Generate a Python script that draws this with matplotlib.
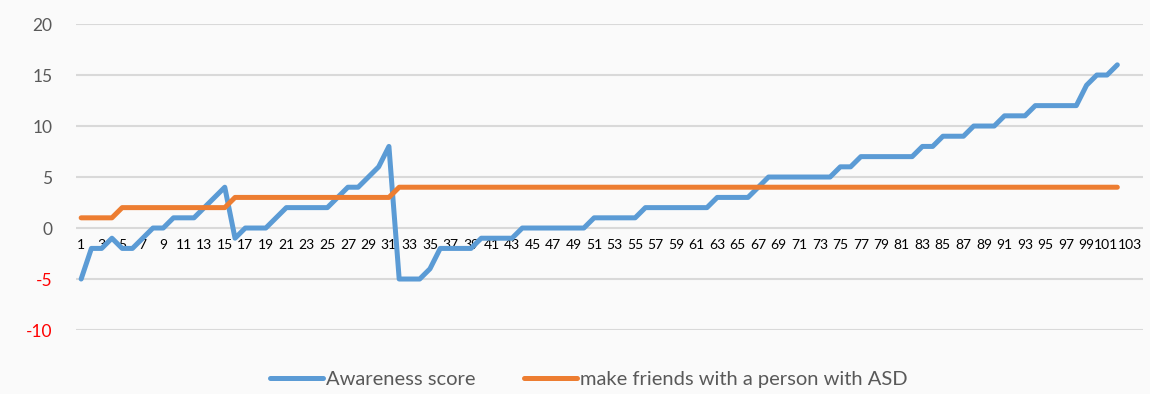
import matplotlib.pyplot as plt
import matplotlib.transforms as mtransforms
import numpy as np

# values, one per respondent (1..102)
awareness = [-5, -2, -2, -1, -2, -2, -1, 0, 0, 1,
             1, 1, 2, 3, 4, -1, 0, 0, 0, 1,
             2, 2, 2, 2, 2, 3, 4, 4, 5, 6,
             8, -5, -5, -5, -4, -2, -2, -2, -2, -1,
             -1, -1, -1, 0, 0, 0, 0, 0, 0, 0,
             1, 1, 1, 1, 1, 2, 2, 2, 2, 2,
             2, 2, 3, 3, 3, 3, 4, 5, 5, 5,
             5, 5, 5, 5, 6, 6, 7, 7, 7, 7,
             7, 7, 8, 8, 9, 9, 9, 10, 10, 10,
             11, 11, 11, 12, 12, 12, 12, 12, 14, 15,
             15, 16]
friends = [1, 1, 1, 1] + [2] * 11 + [3] * 16 + [4] * 71
categories = list(range(1, len(awareness) + 1))
xtick_labels = [str(i) for i in range(1, 104, 2)]
yticks = [-10, -5, 0, 5, 10, 15, 20]

blue = '#5B9BD5'
orange = '#ED7D31'
grey_text = '#595959'
bg = '#fafafa'

plt.rcParams['font.family'] = ['Lato', 'DejaVu Sans']

fig = plt.figure(figsize=(11.5, 3.94), dpi=100, facecolor=bg)
ax = fig.add_axes([0.0661, 0.1624, 0.9278, 0.7766], facecolor=bg)

ax.plot(categories, awareness, color=blue, lw=3.6, solid_joinstyle='round',
        solid_capstyle='round', label='Awareness score')
ax.plot(categories, friends, color=orange, lw=3.6, solid_joinstyle='round',
        solid_capstyle='round', label='make friends with a person with ASD')

ax.set_xlim(0.5, 104.5)
ax.set_ylim(-10, 20)
ax.set_yticks(yticks)
ax.set_yticklabels([str(v) for v in yticks])  # plain hyphen like excel
ax.set_xticks(range(1, 104, 2))
ax.set_xticklabels(xtick_labels, fontsize=7.1, color=grey_text)
ax.yaxis.grid(True, color='#d9d9d9', lw=1.5)
ax.set_axisbelow(True)

for s in ['top', 'right', 'left']:
    ax.spines[s].set_visible(False)
ax.spines['bottom'].set_position(('data', 0))
ax.spines['bottom'].set_visible(False)
ax.tick_params(axis='x', length=0, pad=8)
ax.tick_params(axis='y', length=0, pad=17, labelsize=12.5, labelcolor=grey_text)
for lbl, v in zip(ax.get_yticklabels(), yticks):
    if v < 0:
        lbl.set_color('red')

# last two x labels sit very close, push them apart a touch
xl = ax.get_xticklabels()
for lbl, dx in [(xl[-2], -1.5), (xl[-1], 2.5)]:
    off = mtransforms.ScaledTranslation(dx / 100, 0, fig.dpi_scale_trans)
    lbl.set_transform(lbl.get_transform() + off)

fig.legend(loc='center', bbox_to_anchor=(0.512, 0.037), ncol=2, frameon=False,
           fontsize=14.5, labelcolor=grey_text, handlelength=2.65,
           handletextpad=0.15, columnspacing=2.4)

fig.savefig('out.png', dpi=100, facecolor=bg)
